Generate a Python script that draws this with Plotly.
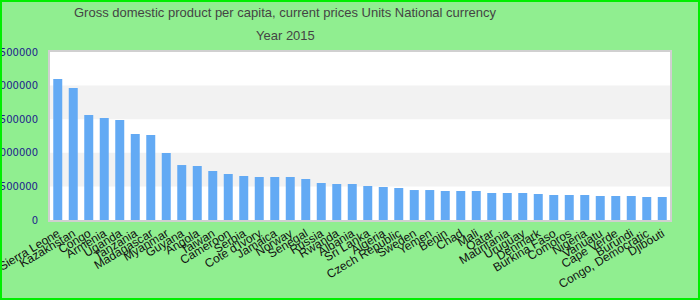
import plotly.graph_objects as go

countries = ["Sierra Leone", "Kazakhstan", "Congo", "Armenia", "Uganda", "Tanzania",
             "Madagascar", "Myanmar", "Guyana", "Angola", "Taiwan", "Cameroon", "Serbia",
             "Cote d'Ivory", "Jamaica", "Norway", "Senegal", "Russia", "Rwanda", "Albania",
             "Sri Lanka", "Algeria", "Czech Republic", "Sweden", "Yemen", "Benin", "Chad",
             "Mali", "Qatar", "Mauritania", "Uruguay", "Denmark", "Burkina Faso", "Comoros",
             "Nigeria", "Vanuatu", "Cape Verde", "Burundi", "Congo, Democratic", "Djibouti"]
values = [2098000, 1964000, 1562000, 1518000, 1488000, 1280000,
          1265000, 997000, 818000, 804000, 729000, 685000, 655000,
          640000, 640000, 640000, 610000, 551000, 536000, 536000,
          506000, 491000, 476000, 446000, 446000, 432000, 432000,
          432000, 402000, 402000, 402000, 387000, 372000, 372000,
          372000, 357000, 357000, 357000, 342000, 342000]
y_ticks = [0, 500000, 1000000, 1500000, 2000000, 2500000]
title_lines = ["Gross domestic product per capita, current prices Units National currency",
               "Year 2015"]

W, H = 700, 300
ML, MR, MT, MB = 50, 30, 52, 80

fig = go.Figure(go.Bar(x=countries, y=values, marker=dict(color="#63aaf4", line=dict(width=0)),
                       width=0.58))

shapes = []
for i in range(len(y_ticks) - 1):
    if i % 2 == 1:
        shapes.append(dict(type="rect", xref="paper", yref="y", x0=0, x1=1,
                           y0=y_ticks[i], y1=y_ticks[i + 1], fillcolor="#f2f2f2",
                           line=dict(width=0), layer="below"))
pw = W - ML - MR
ph = H - MT - MB
shapes.append(dict(type="rect", xref="paper", yref="paper",
                   x0=-ML / pw, x1=1 + MR / pw, y0=-MB / ph, y1=1 + MT / ph,
                   line=dict(color="#00ee00", width=4), fillcolor="rgba(0,0,0,0)"))

annotations = []
for k, (txt, yc) in enumerate(zip(title_lines, [13, 36])):
    annotations.append(dict(text=txt, xref="paper", yref="paper", showarrow=False,
                            x=(285 - ML) / pw, y=1 + (MT - yc) / ph,
                            xanchor="center", yanchor="middle",
                            font=dict(family="Liberation Sans, Arial", size=13, color="#444444")))

fig.update_layout(
    width=W, height=H,
    margin=dict(l=ML, r=MR, t=MT, b=MB, autoexpand=False),
    paper_bgcolor="#90ee90",
    plot_bgcolor="#ffffff",
    showlegend=False,
    shapes=shapes,
    annotations=annotations,
)
fig.update_xaxes(tickangle=-31, tickfont=dict(family="Liberation Sans, Arial", size=12, color="#111111"),
                 showline=True, linecolor="#d0d0d0", linewidth=2, mirror=True,
                 showgrid=False, automargin=False, ticks="", range=[-0.5, len(countries) - 0.5])
fig.update_yaxes(range=[0, 2500000], tickvals=y_ticks, ticktext=[str(v) for v in y_ticks],
                 tickfont=dict(family="DejaVu Sans, Verdana", size=10, color="#1c1c8c"),
                 showline=True, linecolor="#d0d0d0", linewidth=2, mirror=True,
                 showgrid=False, zeroline=False, automargin=False, ticks="",
                 ticklabelstandoff=8)

fig.write_html("out.html")
